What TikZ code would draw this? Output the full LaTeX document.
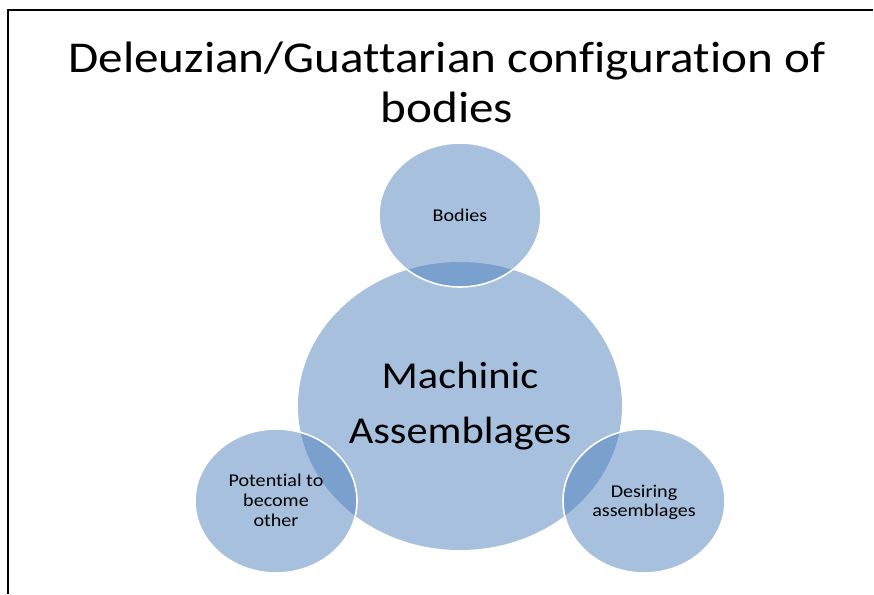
\documentclass[tikz,border=0pt]{standalone}
\usepackage{fontspec}
\setmainfont{Carlito}[Ligatures=NoCommon]
\usetikzlibrary{shapes.geometric}
\definecolor{bubbleblue}{RGB}{79,129,189}
% text is set slightly wide, like the bubbles
\newcommand{\stretchtext}[1]{\scalebox{1.117}[1]{#1}}
\begin{document}
\begin{tikzpicture}[x=1pt,y=-1pt,
  bubble/.style={fill=bubbleblue, fill opacity=0.5},
  satellite/.style={bubble, draw=white, draw opacity=1, line width=1.6pt},
  titletext/.style={font=\fontsize{44}{50}\selectfont, anchor=base},
  bigtext/.style={font=\fontsize{38}{55}\selectfont, anchor=base},
  smalltext/.style={font=\fontsize{18}{20}\selectfont, anchor=base, text=black}]
\useasboundingbox (0,0) rectangle (874,594);
% slide frame (top and left edges)
\draw[line width=2pt] (8,594) -- (8,10) -- (873,10);

% title
\node[titletext] (title1) at (447,72) {\stretchtext{Deleuzian/Guattarian configuration of}};
\node[titletext] (title2) at (447,122) {\stretchtext{bodies}};

% central assemblage
\fill[bubble] (460,406) ellipse [x radius=162, y radius=144];
\node[bigtext] (mach1) at (460,388) {\stretchtext{Machinic}};
\node[bigtext] (mach2) at (460,443) {\stretchtext{Assemblages}};

% satellite bubbles
\filldraw[satellite] (460,215) ellipse [x radius=81, y radius=72];
\filldraw[satellite] (644,501) ellipse [x radius=81, y radius=72];
\filldraw[satellite] (276,501) ellipse [x radius=81, y radius=72];

\node[smalltext] (bodies) at (460,221) {\stretchtext{Bodies}};
\node[smalltext] (des1) at (644,497) {\stretchtext{Desiring}};
\node[smalltext] (des2) at (644,516) {\stretchtext{assemblages}};
\node[smalltext] (pot1) at (276,486) {\stretchtext{Potential to}};
\node[smalltext] (pot2) at (276,506) {\stretchtext{become}};
\node[smalltext] (pot3) at (276,526) {\stretchtext{other}};
\end{tikzpicture}
\end{document}
